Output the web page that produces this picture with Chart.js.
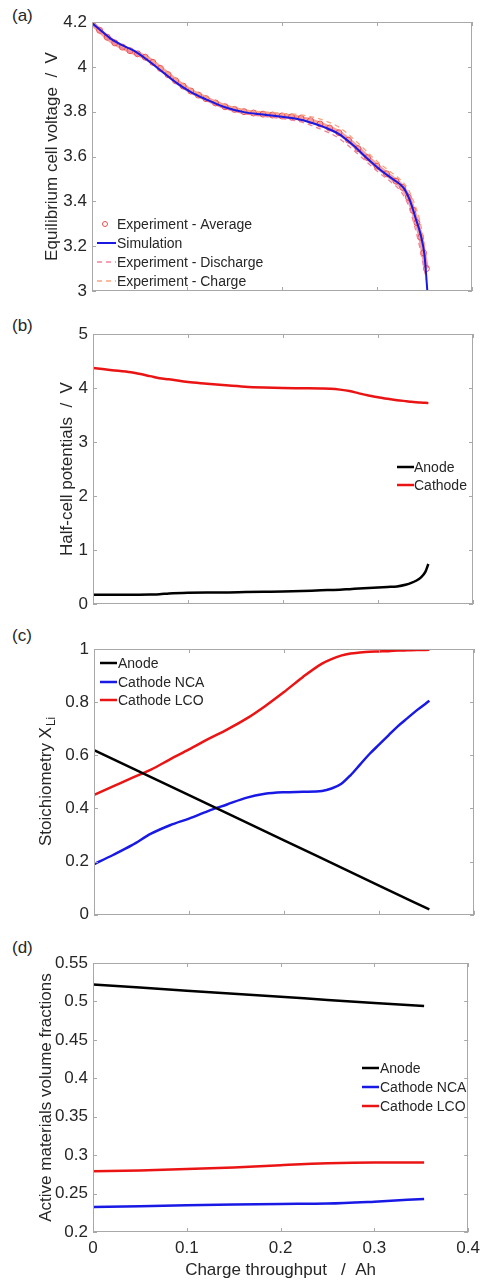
<!DOCTYPE html>
<html><head><meta charset="utf-8">
<script src="https://cdn.jsdelivr.net/npm/chart.js@4.4.1/dist/chart.umd.min.js"></script>
<style>
html,body{margin:0;padding:0;background:#fff;}
body{width:486px;height:1281px;position:relative;overflow:hidden;font-family:"Liberation Sans",Arial,sans-serif;}
.pl{position:absolute;left:12px;font-size:17px;color:#262626;line-height:17px;}
canvas{position:absolute;left:0;}
</style></head><body>
<div class="pl" style="top:7px">(a)</div>
<div class="pl" style="top:317px">(b)</div>
<div class="pl" style="top:627px">(c)</div>
<div class="pl" style="top:939px">(d)</div>
<canvas id="ca" width="486" height="310" style="top:0px"></canvas>
<canvas id="cb" width="486" height="310" style="top:310px"></canvas>
<canvas id="cc" width="486" height="310" style="top:620px"></canvas>
<canvas id="cd" width="486" height="351" style="top:930px"></canvas>
<script>
// ---------- DATA ----------
const xTicks = [0, 0.1, 0.2, 0.3, 0.4];
const yTicksA = [3, 3.2, 3.4, 3.6, 3.8, 4, 4.2];
const yTicksB = [0, 1, 2, 3, 4, 5];
const yTicksC = [0, 0.2, 0.4, 0.6, 0.8, 1];
const yTicksD = [0.2, 0.25, 0.3, 0.35, 0.4, 0.45, 0.5, 0.55];

// (a) equilibrium cell voltage
const simQ = [0, 0.01, 0.02, 0.03, 0.045, 0.06, 0.075, 0.09, 0.105, 0.12, 0.14, 0.16, 0.18, 0.2, 0.215, 0.23, 0.245, 0.26, 0.275, 0.29, 0.305, 0.318, 0.328, 0.335, 0.341, 0.346, 0.35, 0.353];
const simV = [4.195, 4.16, 4.125, 4.10, 4.07, 4.025, 3.975, 3.925, 3.885, 3.855, 3.82, 3.798, 3.787, 3.777, 3.768, 3.752, 3.73, 3.70, 3.65, 3.59, 3.535, 3.495, 3.46, 3.40, 3.32, 3.25, 3.16, 3.0];
const avgQ = [0, 0.008, 0.016, 0.024, 0.032, 0.04, 0.048, 0.056, 0.064, 0.072, 0.08, 0.088, 0.096, 0.104, 0.112, 0.12, 0.13, 0.14, 0.15, 0.16, 0.17, 0.18, 0.19, 0.2, 0.21, 0.22, 0.23, 0.24, 0.25, 0.26, 0.27, 0.28, 0.29, 0.3, 0.31, 0.32, 0.327, 0.333, 0.338, 0.342, 0.346, 0.349, 0.352];
const avgV = [4.195, 4.163, 4.132, 4.107, 4.088, 4.072, 4.058, 4.043, 4.02, 3.993, 3.965, 3.938, 3.914, 3.892, 3.874, 3.858, 3.839, 3.822, 3.81, 3.80, 3.794, 3.789, 3.785, 3.781, 3.777, 3.77, 3.76, 3.745, 3.727, 3.706, 3.673, 3.635, 3.595, 3.557, 3.523, 3.49, 3.462, 3.418, 3.36, 3.305, 3.24, 3.17, 3.10];
const dashQ = [0, 0.02, 0.04, 0.06, 0.08, 0.1, 0.12, 0.14, 0.16, 0.18, 0.2, 0.22, 0.24, 0.26, 0.28, 0.3, 0.315, 0.325, 0.333, 0.34, 0.345, 0.349, 0.352];
const disV = [4.191, 4.114, 4.066, 4.026, 3.958, 3.896, 3.851, 3.815, 3.792, 3.779, 3.769, 3.754, 3.723, 3.681, 3.61, 3.535, 3.485, 3.445, 3.383, 3.283, 3.195, 3.11, 3.05];
const chgV = [4.199, 4.126, 4.078, 4.038, 3.972, 3.91, 3.865, 3.829, 3.808, 3.799, 3.793, 3.786, 3.767, 3.731, 3.66, 3.579, 3.529, 3.495, 3.453, 3.383, 3.315, 3.23, 3.15];

// (b) half-cell potentials
const bQ = [0, 0.02, 0.04, 0.06, 0.07, 0.08, 0.1, 0.12, 0.14, 0.16, 0.18, 0.2, 0.22, 0.24, 0.25, 0.26, 0.27, 0.28, 0.29, 0.3, 0.31, 0.32, 0.33, 0.335, 0.34, 0.345, 0.35, 0.353];
const bCathode = [4.37, 4.33, 4.29, 4.22, 4.18, 4.16, 4.11, 4.08, 4.05, 4.025, 4.01, 4.0, 3.995, 3.99, 3.985, 3.97, 3.945, 3.90, 3.86, 3.83, 3.80, 3.775, 3.755, 3.745, 3.737, 3.73, 3.725, 3.72];
const bAnode = [0.17, 0.17, 0.17, 0.175, 0.18, 0.195, 0.21, 0.215, 0.215, 0.22, 0.225, 0.23, 0.24, 0.255, 0.26, 0.265, 0.275, 0.285, 0.295, 0.305, 0.315, 0.325, 0.36, 0.39, 0.43, 0.49, 0.6, 0.74];

// (c) stoichiometry
const cQ = [0, 0.02, 0.04, 0.06, 0.08, 0.1, 0.12, 0.14, 0.16, 0.18, 0.2, 0.22, 0.24, 0.25, 0.26, 0.27, 0.28, 0.29, 0.3, 0.31, 0.32, 0.33, 0.34, 0.353];
const cLCO = [0.451, 0.483, 0.515, 0.546, 0.585, 0.622, 0.661, 0.697, 0.737, 0.785, 0.838, 0.895, 0.945, 0.962, 0.975, 0.983, 0.987, 0.99, 0.991, 0.992, 0.994, 0.995, 0.996, 0.997];
const cNCA = [0.19, 0.225, 0.262, 0.305, 0.337, 0.362, 0.39, 0.415, 0.44, 0.455, 0.461, 0.463, 0.466, 0.475, 0.492, 0.525, 0.565, 0.605, 0.64, 0.675, 0.71, 0.74, 0.77, 0.805];
const cAnodeQ = [0, 0.1, 0.2, 0.3, 0.353];
const cAnode = [0.62, 0.45, 0.28, 0.11, 0.02];

// (d) volume fractions
const dQ = [0, 0.05, 0.1, 0.15, 0.2, 0.25, 0.3, 0.353];
const dAnode = [0.522, 0.518, 0.514, 0.510, 0.506, 0.502, 0.498, 0.494];
const dNCA = [0.2325, 0.2335, 0.2347, 0.2357, 0.2365, 0.237, 0.2395, 0.243];
const dLCO = [0.279, 0.280, 0.282, 0.284, 0.287, 0.2895, 0.2905, 0.2905];

// ---------- HELPERS ----------
const pts = (xs, ys) => xs.map((x, i) => ({x, y: ys[i]}));
const TXT = '#262626';
const FONT = '"Liberation Sans", Arial, sans-serif';
const fmt = v => String(+(+v).toFixed(3));

const deco = {
  id: 'deco',
  afterDraw(chart) {
    const o = chart.options.plugins.deco;
    const {ctx, chartArea: a} = chart;
    const xs = chart.scales.x, ys = chart.scales.y;
    ctx.save();
    ctx.strokeStyle = '#a8a8a8'; ctx.lineWidth = 1;
    ctx.strokeRect(Math.round(a.left) + 0.5, Math.round(a.top) + 0.5, Math.round(a.right - a.left) - 1, Math.round(a.bottom - a.top) - 1);
    const tl = 4;
    ctx.beginPath();
    ys.ticks.forEach(t => {
      const y = Math.round(ys.getPixelForValue(t.value)) + 0.5;
      ctx.moveTo(a.left, y); ctx.lineTo(a.left + tl, y);
      ctx.moveTo(a.right, y); ctx.lineTo(a.right - tl, y);
    });
    xs.ticks.forEach(t => {
      const x = Math.round(xs.getPixelForValue(t.value)) + 0.5;
      ctx.moveTo(x, a.bottom); ctx.lineTo(x, a.bottom - tl);
      ctx.moveTo(x, a.top); ctx.lineTo(x, a.top + tl);
    });
    ctx.stroke();
    // legend
    ctx.font = '14px ' + FONT;
    ctx.textBaseline = 'middle'; ctx.textAlign = 'left';
    o.legend.forEach(it => {
      const ds = chart.data.datasets[it.ds];
      ctx.save();
      if (it.type === 'circle') {
        ctx.strokeStyle = 'rgb(235,80,80)'; ctx.lineWidth = 1;
        ctx.beginPath(); ctx.arc((it.x0 + it.x1) / 2, it.y, 2.5, 0, Math.PI * 2); ctx.stroke();
      } else {
        ctx.strokeStyle = ds.borderColor; ctx.lineWidth = ds.borderWidth;
        ctx.setLineDash(ds.borderDash || []);
        ctx.beginPath(); ctx.moveTo(it.x0, it.y); ctx.lineTo(it.x1, it.y); ctx.stroke();
      }
      ctx.restore();
      ctx.fillStyle = TXT;
      ctx.fillText(ds.label, it.tx, it.y + 1);
    });
    // y title
    ctx.fillStyle = TXT;
    ctx.translate(o.yTitleX, (a.top + a.bottom) / 2);
    ctx.rotate(-Math.PI / 2);
    ctx.textBaseline = 'middle';
    ctx.font = '17px ' + FONT;
    if (o.ySub) {
      const w1 = ctx.measureText(o.yTitle).width;
      ctx.font = '12px ' + FONT;
      const w2 = ctx.measureText(o.ySub).width;
      const s = -(w1 + w2) / 2;
      ctx.font = '17px ' + FONT; ctx.textAlign = 'left';
      ctx.fillText(o.yTitle, s, 0);
      ctx.font = '12px ' + FONT;
      ctx.fillText(o.ySub, s + w1 + 1, 6);
    } else {
      ctx.textAlign = 'center';
      ctx.fillText(o.yTitle, 0, 0);
    }
    ctx.restore();
    if (o.xTitle) {
      ctx.save();
      ctx.fillStyle = TXT; ctx.font = '17px ' + FONT;
      ctx.textAlign = 'center'; ctx.textBaseline = 'middle';
      ctx.fillText(o.xTitle, (a.left + a.right) / 2, o.xTitleY);
      ctx.restore();
    }
  }
};

function lineDs(label, data, color, width, extra) {
  return Object.assign({label, data, borderColor: color, backgroundColor: color, borderWidth: width,
    pointRadius: 0, showLine: true, fill: false, cubicInterpolationMode: 'monotone'}, extra || {});
}

function makeChart(id, cfg) {
  return new Chart(document.getElementById(id), {
    type: 'scatter',
    data: {datasets: cfg.datasets},
    plugins: [deco],
    options: {
      responsive: false, animation: false, maintainAspectRatio: false,
      layout: {padding: {top: cfg.padTop, bottom: cfg.padBottom, left: 0, right: cfg.padRight}},
      plugins: {legend: {display: false}, tooltip: {enabled: false}, deco: cfg.deco},
      scales: {
        x: {
          type: 'linear', min: 0, max: 0.4,
          afterBuildTicks: s => { s.ticks = xTicks.map(v => ({value: v})); },
          afterFit: s => { s.height = cfg.xHeight; },
          grid: {display: false, drawTicks: false}, border: {display: false},
          ticks: {display: cfg.showX, padding: 6, color: TXT, font: {family: FONT, size: 17}, callback: fmt, maxRotation: 0}
        },
        y: {
          type: 'linear', min: cfg.yTicks[0], max: cfg.yTicks[cfg.yTicks.length - 1],
          afterBuildTicks: s => { s.ticks = cfg.yTicks.map(v => ({value: v})); },
          afterFit: s => { s.width = cfg.left; },
          grid: {display: false, drawTicks: false}, border: {display: false},
          ticks: {padding: 5, color: TXT, font: {family: FONT, size: 17}, callback: fmt}
        }
      }
    }
  });
}

// (a)
makeChart('ca', {
  left: 92, padTop: 22, padBottom: 19, padRight: 14, xHeight: 0, showX: false, yTicks: yTicksA,
  datasets: [
    lineDs('Experiment - Average', pts(avgQ, avgV), 'rgba(240,95,95,0.6)', 5,
      {pointRadius: 3, pointBorderWidth: 1, pointBorderColor: 'rgba(230,50,50,0.8)', pointBackgroundColor: 'rgba(255,255,255,0)', order: 4}),
    lineDs('Simulation', pts(simQ, simV), 'rgb(25,25,225)', 2, {order: 0}),
    lineDs('Experiment - Discharge', pts(dashQ, disV), 'rgb(240,130,155)', 1.3, {borderDash: [5, 4], order: 2}),
    lineDs('Experiment - Charge', pts(dashQ, chgV), 'rgb(250,165,130)', 1.3, {borderDash: [5, 4], order: 3})
  ],
  deco: {
    yTitle: 'Equilibrium cell voltage  /  V', yTitleX: 52,
    legend: [
      {ds: 0, type: 'circle', x0: 97, x1: 113, tx: 117, y: 224},
      {ds: 1, x0: 97, x1: 116, tx: 117, y: 243},
      {ds: 2, x0: 97, x1: 116, tx: 117, y: 262},
      {ds: 3, x0: 97, x1: 116, tx: 117, y: 281}
    ]
  }
});

// (b)
makeChart('cb', {
  left: 93, padTop: 24, padBottom: 16, padRight: 13, xHeight: 0, showX: false, yTicks: yTicksB,
  datasets: [
    lineDs('Anode', pts(bQ, bAnode), '#000000', 2.5),
    lineDs('Cathode', pts(bQ, bCathode), 'rgb(235,20,20)', 2.5)
  ],
  deco: {
    yTitle: 'Half-cell potentials  /  V', yTitleX: 67,
    legend: [
      {ds: 0, x0: 397, x1: 414, tx: 414, y: 157},
      {ds: 1, x0: 397, x1: 414, tx: 414, y: 175}
    ]
  }
});

// (c)
makeChart('cc', {
  left: 94, padTop: 29, padBottom: 12, padRight: 12, xHeight: 0, showX: false, yTicks: yTicksC,
  datasets: [
    lineDs('Anode', pts(cAnodeQ, cAnode), '#000000', 2.5),
    lineDs('Cathode NCA', pts(cQ, cNCA), 'rgb(25,25,230)', 2.5),
    lineDs('Cathode LCO', pts(cQ, cLCO), 'rgb(235,20,20)', 2.5)
  ],
  deco: {
    yTitle: 'Stoichiometry X', ySub: 'Li', yTitleX: 46,
    legend: [
      {ds: 0, x0: 100, x1: 117, tx: 118, y: 43},
      {ds: 1, x0: 100, x1: 117, tx: 118, y: 62},
      {ds: 2, x0: 100, x1: 117, tx: 118, y: 80}
    ]
  }
});

// (d)
makeChart('cd', {
  left: 93, padTop: 33, padBottom: 0, padRight: 13, xHeight: 49, showX: true, yTicks: yTicksD,
  datasets: [
    lineDs('Anode', pts(dQ, dAnode), '#000000', 2.5),
    lineDs('Cathode NCA', pts(dQ, dNCA), 'rgb(25,25,230)', 2.5),
    lineDs('Cathode LCO', pts(dQ, dLCO), 'rgb(235,20,20)', 2.5)
  ],
  deco: {
    yTitle: 'Active materials volume fractions', yTitleX: 46,
    xTitle: 'Charge throughput   /  Ah', xTitleY: 340,
    legend: [
      {ds: 0, x0: 362, x1: 379, tx: 380, y: 138},
      {ds: 1, x0: 362, x1: 379, tx: 380, y: 157},
      {ds: 2, x0: 362, x1: 379, tx: 380, y: 176}
    ]
  }
});
</script>
</body></html>
